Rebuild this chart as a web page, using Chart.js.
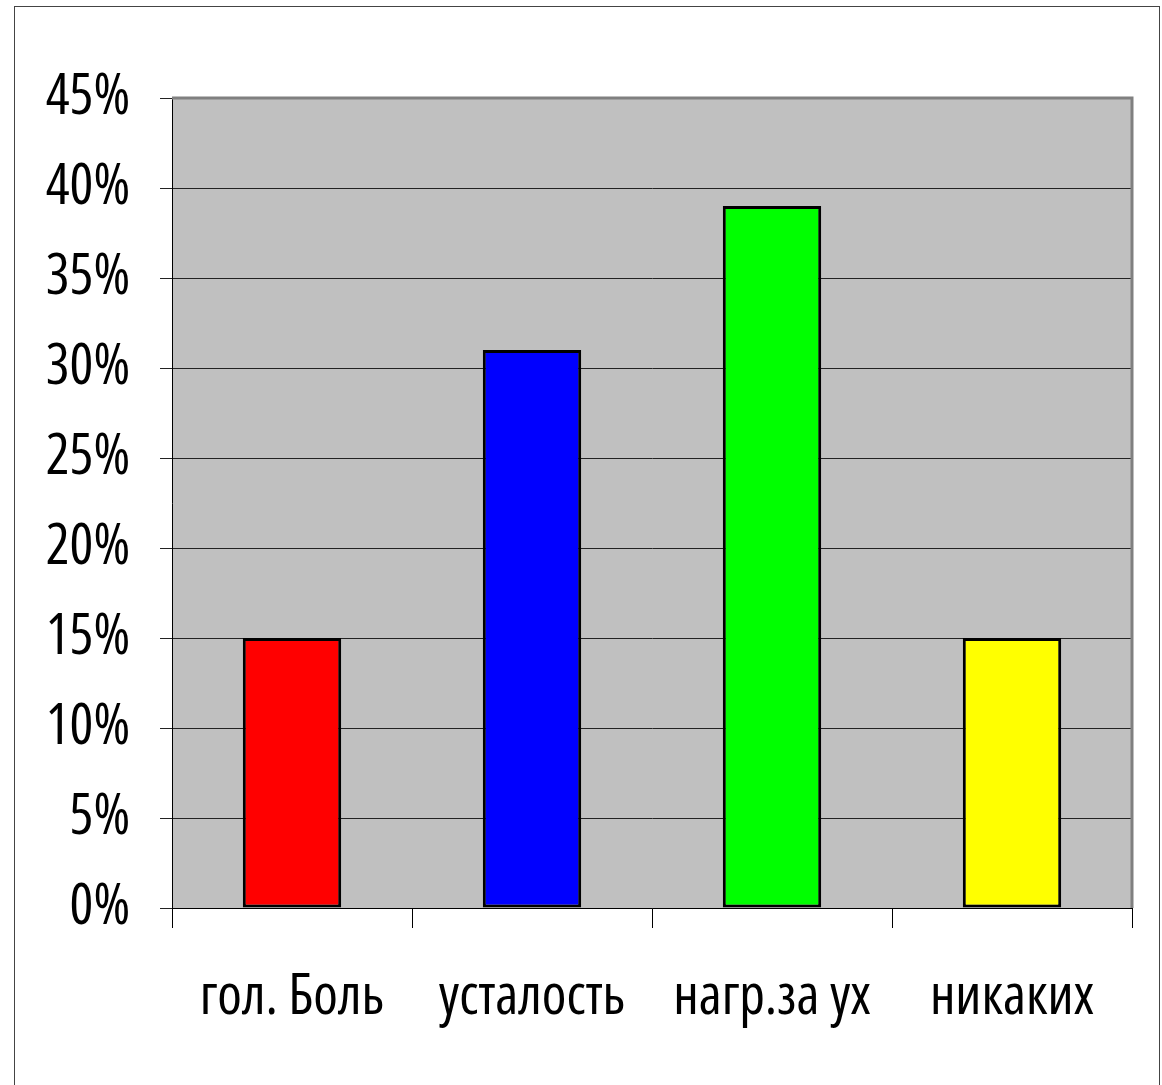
<!DOCTYPE html>
<html>
<head>
<meta charset="utf-8">
<script src="https://cdn.jsdelivr.net/npm/chart.js@4.4.1/dist/chart.umd.min.js"></script>
<style>
  html, body { margin: 0; padding: 0; background: #fff; overflow: hidden; }
  #frame { position: absolute; left: 14px; top: 6px; width: 1144px; height: 1100px; border: 1px solid #444; }
  #wrap { position: absolute; left: 0; top: 0; width: 1162px; height: 1085px; }
</style>
</head>
<body>
<div id="frame"></div>
<div id="wrap"><canvas id="chart" width="1162" height="1085"></canvas></div>
<script>
// Категории и значения (проценты)
const categories = ["гол. Боль", "усталость", "нагр.за ух", "никаких"];
const values = [15, 31, 39, 15];
const barColors = ["#FF0000", "#0000FF", "#00FF00", "#FFFF00"];

// узкий шрифт: Open Sans в сжатом начертании
const FONT = { family: "'Open Sans', sans-serif", size: 56, weight: "condensed" };

// Фон области построения и серая рамка сверху/справа
const plotBg = {
    id: "plotBg",
    beforeDraw(chart) {
        const a = chart.chartArea;
        const ctx = chart.ctx;
        ctx.save();
        ctx.fillStyle = "#C0C0C0";
        ctx.fillRect(a.left, a.top, a.right - a.left, a.bottom - a.top);
        ctx.restore();
    },
    afterDraw(chart) {
        const a = chart.chartArea;
        const ctx = chart.ctx;
        ctx.save();
        ctx.strokeStyle = "#808080";
        ctx.lineWidth = 3;
        ctx.beginPath();
        ctx.moveTo(a.left, a.top);
        ctx.lineTo(a.right, a.top);
        ctx.lineTo(a.right, a.bottom);
        ctx.stroke();
        ctx.restore();
    }
};

const ctx = document.getElementById("chart").getContext("2d");
new Chart(ctx, {
    type: "bar",
    data: {
        labels: categories,
        datasets: [{
            data: values,
            backgroundColor: barColors,
            borderColor: "#000",
            borderWidth: 3,
            borderSkipped: false,
            categoryPercentage: 1,
            barPercentage: 0.41
        }]
    },
    options: {
        responsive: false,
        animation: false,
        layout: { padding: { left: 0, top: 98, right: 30, bottom: 0 } },
        plugins: { legend: { display: false }, tooltip: { enabled: false } },
        scales: {
            x: {
                grid: { offset: true, drawOnChartArea: false, tickLength: 20, color: "#000", lineWidth: 1 },
                border: { color: "#000", width: 1 },
                ticks: { color: "#000", padding: 36, autoSkip: false, maxRotation: 0, minRotation: 0, font: FONT },
                afterFit(scale) { scale.height = 177; }
            },
            y: {
                min: 0,
                max: 45,
                ticks: {
                    stepSize: 5,
                    color: "#000",
                    padding: 30,
                    font: FONT,
                    callback: (v) => v + "%"
                },
                grid: { color: "#222", lineWidth: 1, tickLength: 12 },
                border: { color: "#000", width: 1 },
                afterFit(scale) { scale.width = 172; }
            }
        }
    },
    plugins: [plotBg]
});
</script>
</body>
</html>
